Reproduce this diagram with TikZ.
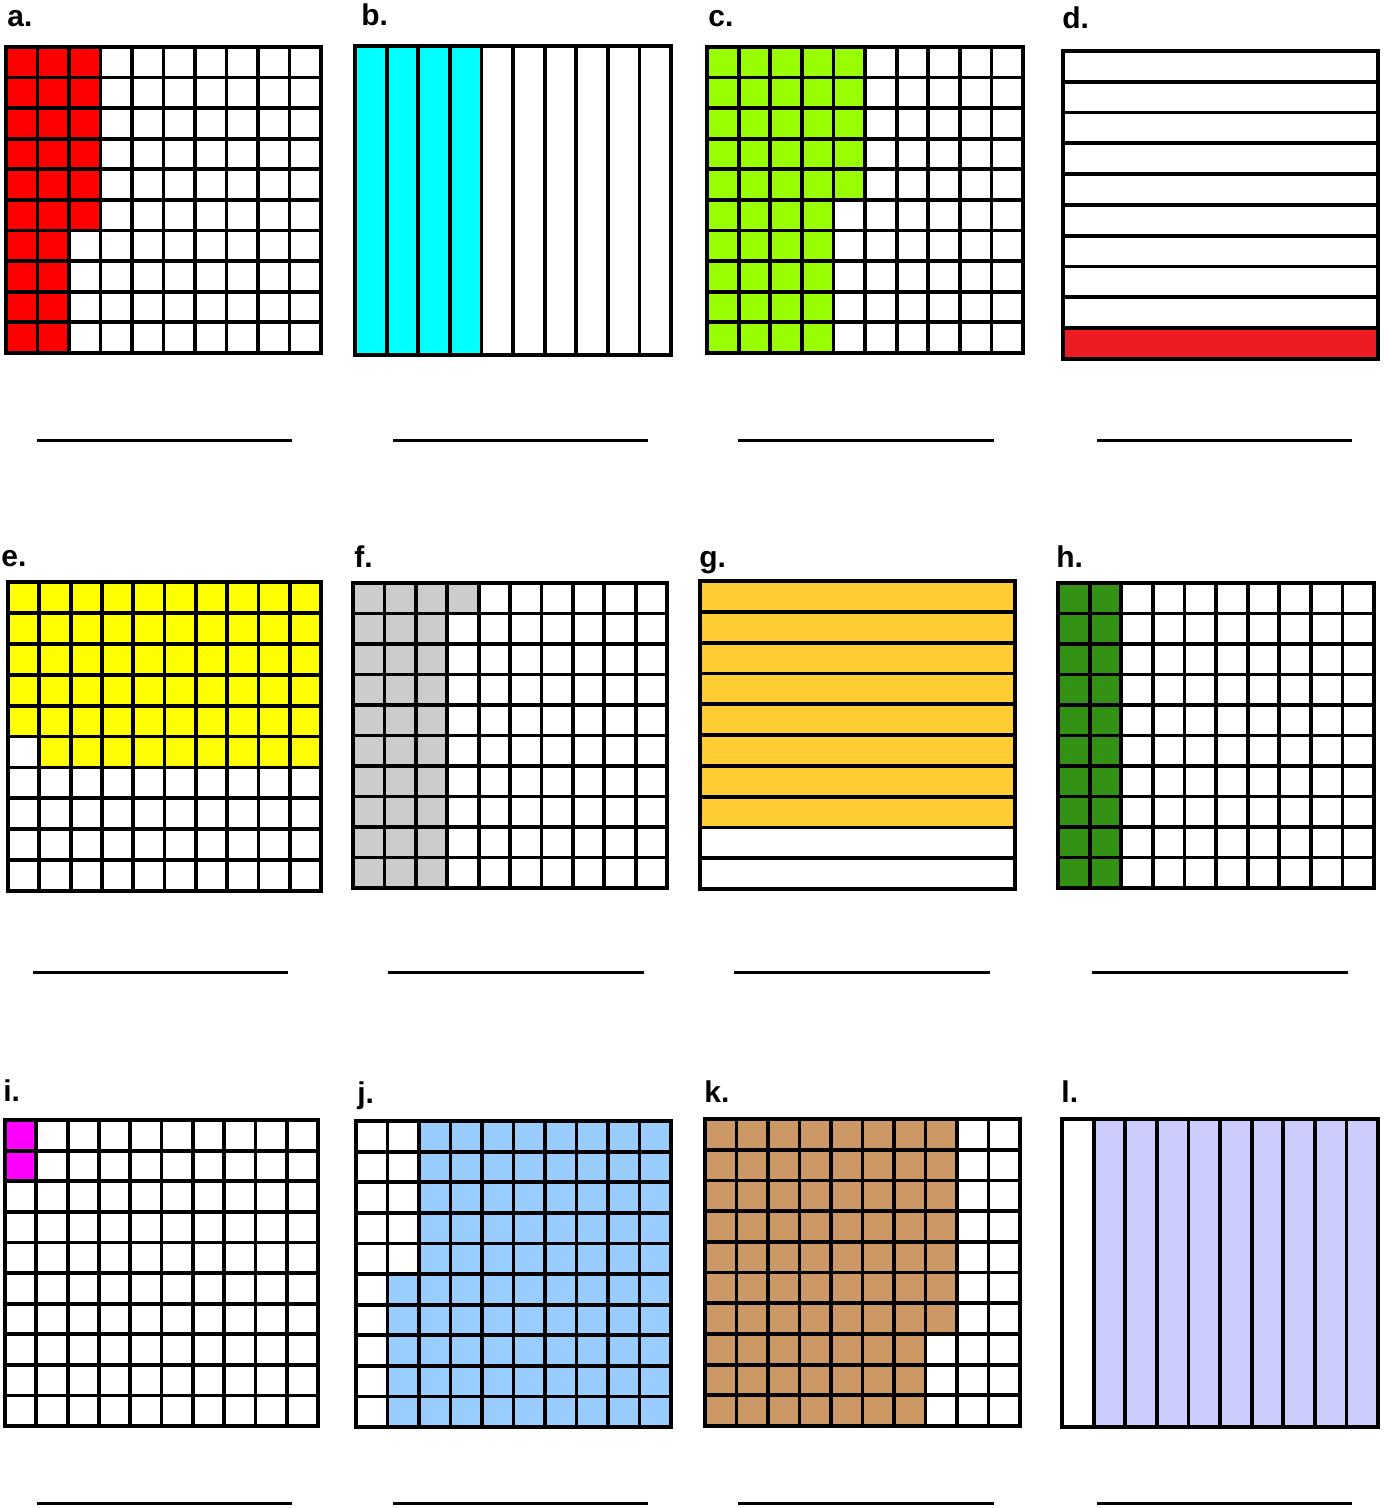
\documentclass[tikz,border=0pt]{standalone}
\usepackage{fontspec}
\setmainfont{Liberation Sans}
\definecolor{cRed}{RGB}{255,0,0}
\definecolor{cCyan}{RGB}{0,255,255}
\definecolor{cLime}{RGB}{153,255,0}
\definecolor{cRedD}{RGB}{237,28,36}
\definecolor{cYellow}{RGB}{255,255,0}
\definecolor{cGray}{RGB}{204,204,204}
\definecolor{cOrange}{RGB}{255,204,51}
\definecolor{cGreen}{RGB}{51,145,20}
\definecolor{cMagenta}{RGB}{255,0,255}
\definecolor{cSky}{RGB}{153,204,255}
\definecolor{cBrown}{RGB}{204,153,102}
\definecolor{cLav}{RGB}{204,204,255}
\newcommand{\squaregrid}{%
  \foreach \k in {1,...,9} {\draw[gridline] (\k,0) -- (\k,10); \draw[gridline] (0,\k) -- (10,\k);}
  \draw[gridline] (0,0) rectangle (10,10);}
\newcommand{\vstrips}{%
  \foreach \k in {1,...,9} {\draw[gridline] (\k,0) -- (\k,10);}
  \draw[gridline] (0,0) rectangle (10,10);}
\newcommand{\hstrips}{%
  \foreach \k in {1,...,9} {\draw[gridline] (0,\k) -- (10,\k);}
  \draw[gridline] (0,0) rectangle (10,10);}
\tikzset{
  gridline/.style={line width=1.9pt, black, line cap=rect},
  panel/.style n args={4}{shift={(#1,#2)}, xscale={(#3-#1)/10}, yscale={(#4-#2)/10}},
  lbl/.style={font=\bfseries\fontsize{15}{15}\selectfont, anchor=base west, inner sep=0pt},
  answer/.style={line width=1.5pt, black}
}
\begin{document}
\begin{tikzpicture}[x=0.5pt,y=-0.5pt]
\path[use as bounding box, fill=white] (0,0) rectangle (1383,1508);

% ---- labels ----
\node[lbl] (la) at (7,27) {a.};
\node[lbl] (lb) at (361,26) {b.};
\node[lbl] (lc) at (708,27) {c.};
\node[lbl] (ld) at (1062,29) {d.};
\node[lbl] (le) at (1,566) {e.};
\node[lbl] (lf) at (354,567) {f.};
\node[lbl] (lg) at (699,567) {g.};
\node[lbl] (lh) at (1056,567) {h.};
\node[lbl] (li) at (3,1101) {i.};
\node[lbl] (lj) at (357,1103) {j.};
\node[lbl] (lk) at (704,1102) {k.};
\node[lbl] (ll) at (1061,1102) {l.};

% ---- a ----
\begin{scope}[panel={6}{47}{321}{353}]
  \fill[cRed] (0,0) rectangle (2,10); \fill[cRed] (2,0) rectangle (3,6);
  \squaregrid
\end{scope}
% ---- b ----
\begin{scope}[panel={355}{46}{671}{355}]
  \fill[cCyan] (0,0) rectangle (4,10);
  \vstrips
\end{scope}
% ---- c ----
\begin{scope}[panel={707}{47}{1023}{353}]
  \fill[cLime] (0,0) rectangle (4,10); \fill[cLime] (4,0) rectangle (5,5);
  \squaregrid
\end{scope}
% ---- d ----
\begin{scope}[panel={1063}{51}{1378}{359}]
  \fill[cRedD] (0,9) rectangle (10,10);
  \hstrips
\end{scope}
% ---- e ----
\begin{scope}[panel={8}{582}{321}{891}]
  \fill[cYellow] (0,0) rectangle (10,5); \fill[cYellow] (1,5) rectangle (10,6);
  \squaregrid
\end{scope}
% ---- f ----
\begin{scope}[panel={353}{583}{667}{888}]
  \fill[cGray] (0,0) rectangle (3,10); \fill[cGray] (3,0) rectangle (4,1);
  \squaregrid
\end{scope}
% ---- g ----
\begin{scope}[panel={700}{581}{1015}{889}]
  \fill[cOrange] (0,0) rectangle (10,8);
  \hstrips
\end{scope}
% ---- h ----
\begin{scope}[panel={1058}{583}{1374}{888}]
  \fill[cGreen] (0,0) rectangle (2,10);
  \squaregrid
\end{scope}
% ---- i ----
\begin{scope}[panel={5}{1120}{318}{1426}]
  \fill[cMagenta] (0,0) rectangle (1,2);
  \squaregrid
\end{scope}
% ---- j ----
\begin{scope}[panel={356}{1121}{671}{1427}]
  \fill[cSky] (2,0) rectangle (10,10); \fill[cSky] (1,5) rectangle (2,10);
  \squaregrid
\end{scope}
% ---- k ----
\begin{scope}[panel={705}{1119}{1020}{1426}]
  \fill[cBrown] (0,0) rectangle (7,10); \fill[cBrown] (7,0) rectangle (8,7);
  \squaregrid
\end{scope}
% ---- l ----
\begin{scope}[panel={1062}{1119}{1378}{1427}]
  \fill[cLav] (1,0) rectangle (10,10);
  \vstrips
\end{scope}

% ---- answer lines ----
\draw[answer] (37,440) -- (292,440);
\draw[answer] (393,440) -- (648,440);
\draw[answer] (738,440) -- (994,440);
\draw[answer] (1097,440) -- (1352,440);
\draw[answer] (33,972) -- (288,972);
\draw[answer] (388,972) -- (644,972);
\draw[answer] (734,972) -- (990,972);
\draw[answer] (1092,972) -- (1348,972);
\draw[answer] (37,1503) -- (292,1503);
\draw[answer] (393,1503) -- (648,1503);
\draw[answer] (738,1503) -- (994,1503);
\draw[answer] (1097,1503) -- (1352,1503);
\end{tikzpicture}
\end{document}
